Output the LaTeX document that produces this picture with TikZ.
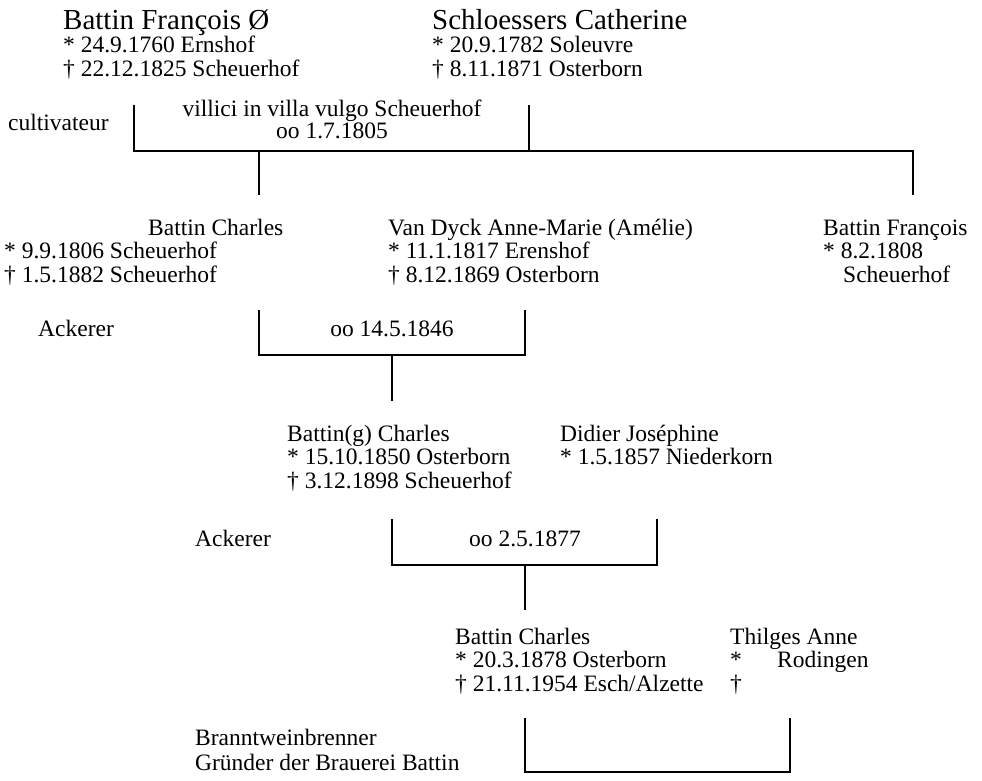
\documentclass[tikz,border=0pt]{standalone}
\usepackage{fontspec}
\setmainfont{Liberation Serif}
\begin{document}
\begin{tikzpicture}[x=1pt,y=-1pt,
  bigname/.style={anchor=base west, inner sep=0pt, font=\fontsize{29}{32}\selectfont},
  info/.style={anchor=base west, inner sep=0pt, font=\fontsize{23.5}{26}\selectfont},
  infoc/.style={anchor=base, inner sep=0pt, font=\fontsize{23.5}{26}\selectfont},
  link/.style={line width=1.4pt, line cap=butt, line join=miter}]
\useasboundingbox[fill=white] (0,0) rectangle (982,781);

% ---- generation 1
\node[bigname] (fa) at (63,30) {Battin François Ø};
\node[info] (fa1) at (63,53) {* 24.9.1760 Ernshof};
\node[info] (fa2) at (63,77) {† 22.12.1825 Scheuerhof};
\node[bigname] (ca) at (432,30) {Schloessers Catherine};
\node[info] (ca1) at (432,53) {* 20.9.1782 Soleuvre};
\node[info] (ca2) at (432,77) {† 8.11.1871 Osterborn};
\node[info] (occ1) at (8,131) {cultivateur};
\node[infoc] (note1) at (332,117) {villici in villa vulgo Scheuerhof};
\node[infoc] (mar1) at (332,139) {oo 1.7.1805};

\coordinate (m1a) at (134,105);
\coordinate (m1b) at (134,151);
\coordinate (m1c) at (913,151);
\coordinate (m1d) at (913,195);
\coordinate (m1e) at (529,105);
\coordinate (m1f) at (529,151);
\coordinate (m1g) at (259,151);
\coordinate (m1h) at (259,195);
\draw[link] (m1a) -- (m1b) -- (m1c) -- (m1d);
\draw[link] (m1e) -- (m1f);
\draw[link] (m1g) -- (m1h);

% ---- generation 2
\node[info] (ch) at (148,235) {Battin Charles};
\node[info] (ch1) at (4,258) {* 9.9.1806 Scheuerhof};
\node[info] (ch2) at (4,282) {† 1.5.1882 Scheuerhof};
\node[info] (vd) at (388,235) {Van Dyck Anne-Marie (Amélie)};
\node[info] (vd1) at (388,258) {* 11.1.1817 Erenshof};
\node[info] (vd2) at (388,282) {† 8.12.1869 Osterborn};
\node[info] (bf) at (823,235) {Battin François};
\node[info] (bf1) at (823,258) {* 8.2.1808};
\node[info] (bf2) at (843,282) {Scheuerhof};
\node[info] (occ2) at (38,336) {Ackerer};
\node[infoc] (mar2) at (392,336) {oo 14.5.1846};

\coordinate (m2a) at (259,310);
\coordinate (m2b) at (259,355);
\coordinate (m2c) at (525,355);
\coordinate (m2d) at (525,310);
\coordinate (m2e) at (392,355);
\coordinate (m2f) at (392,401);
\draw[link] (m2a) -- (m2b) -- (m2c) -- (m2d);
\draw[link] (m2e) -- (m2f);

% ---- generation 3
\node[info] (cg) at (287,441) {Battin(g) Charles};
\node[info] (cg1) at (287,464) {* 15.10.1850 Osterborn};
\node[info] (cg2) at (287,488) {† 3.12.1898 Scheuerhof};
\node[info] (dj) at (560,441) {Didier Joséphine};
\node[info] (dj1) at (560,464) {* 1.5.1857 Niederkorn};
\node[info] (occ3) at (195,546) {Ackerer};
\node[infoc] (mar3) at (525,546) {oo 2.5.1877};

\coordinate (m3a) at (392,519);
\coordinate (m3b) at (392,565);
\coordinate (m3c) at (657,565);
\coordinate (m3d) at (657,519);
\coordinate (m3e) at (525,565);
\coordinate (m3f) at (525,610);
\draw[link] (m3a) -- (m3b) -- (m3c) -- (m3d);
\draw[link] (m3e) -- (m3f);

% ---- generation 4
\node[info] (bc) at (455,644) {Battin Charles};
\node[info] (bc1) at (455,667) {* 20.3.1878 Osterborn};
\node[info] (bc2) at (455,691) {† 21.11.1954 Esch/Alzette};
\node[info] (ta) at (730,644) {Thilges Anne};
\node[info] (ta1) at (730,667) {*};
\node[info] (ta1b) at (777,667) {Rodingen};
\node[info] (ta2) at (730,691) {†};
\node[info] (occ4a) at (195,745) {Branntweinbrenner};
\node[info] (occ4b) at (195,770) {Gründer der Brauerei Battin};

\coordinate (m4a) at (525,718);
\coordinate (m4b) at (525,772);
\coordinate (m4c) at (790,772);
\coordinate (m4d) at (790,718);
\draw[link] (m4a) -- (m4b) -- (m4c) -- (m4d);
\end{tikzpicture}
\end{document}
